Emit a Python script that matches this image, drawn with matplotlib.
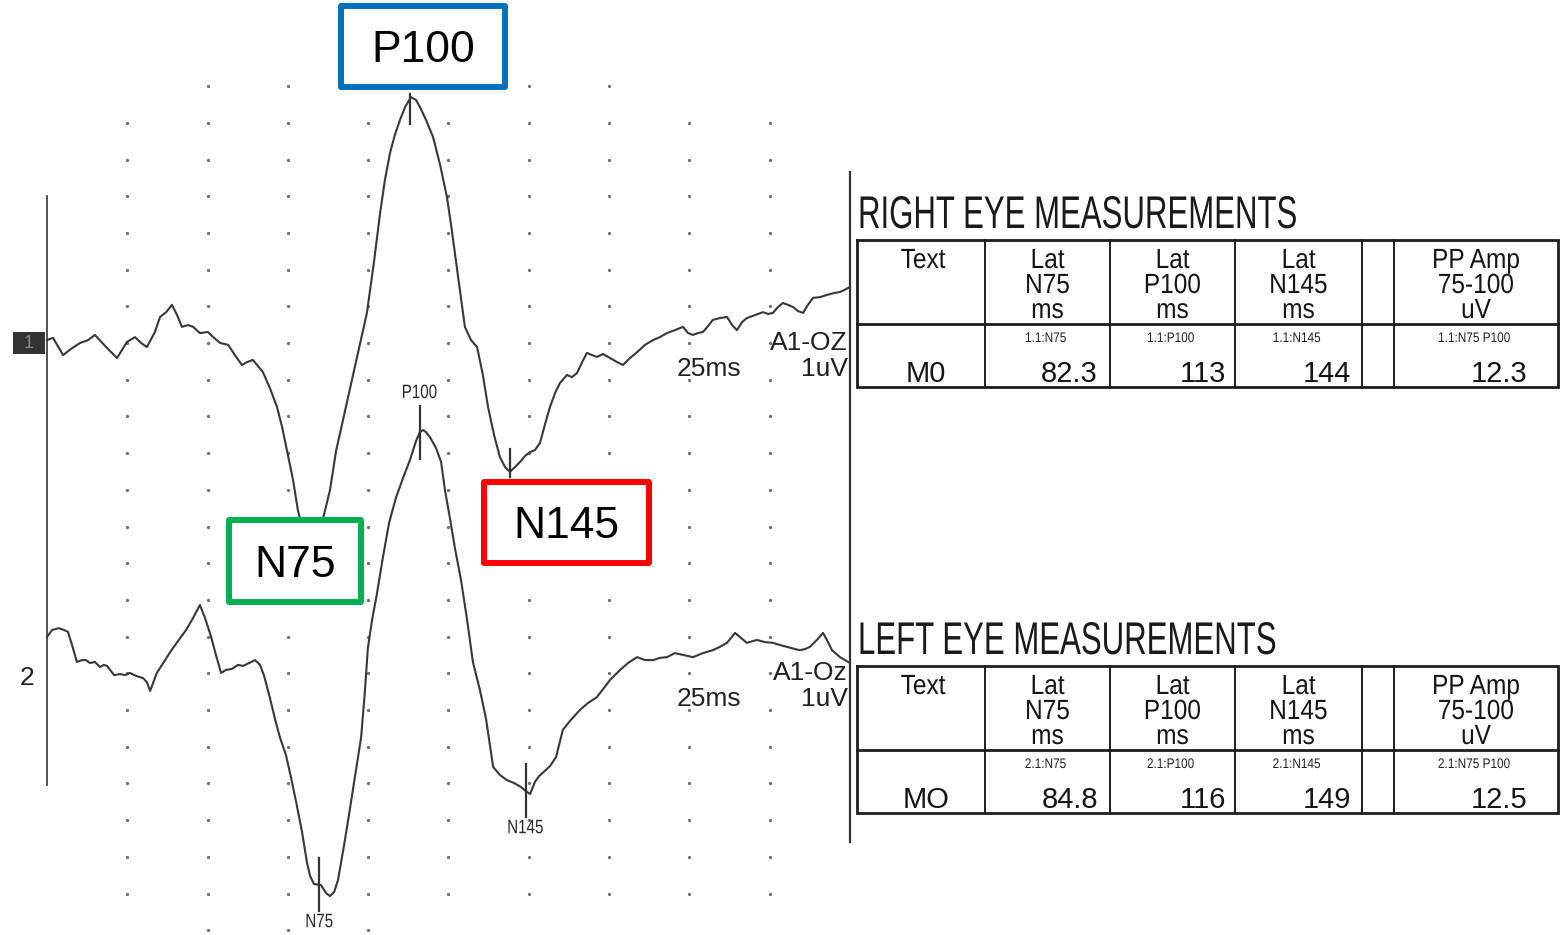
import numpy as np
import matplotlib
matplotlib.use("Agg")
import matplotlib.pyplot as plt
from matplotlib.patches import Rectangle
from matplotlib.patheffects import AbstractPathEffect
from matplotlib.transforms import Affine2D

# ---------------- data ----------------
# Channel 1 (right eye) : time in ms, amplitude in uV (relative to channel baseline)
t1 = [0.0, 1.9, 5.0, 7.8, 10.3, 12.8, 14.9, 18.4, 21.8, 24.9, 27.4, 29.3, 31.1, 33.6, 35.2,
      37.1, 38.9, 40.5, 42.0, 43.9, 45.5, 47.6, 50.1, 52.0, 53.9, 56.4, 58.5, 60.7, 62.3, 64.1,
      67.2, 69.4, 71.6, 73.2, 74.7, 76.6, 78.1, 80.0, 82.2, 84.4, 85.9, 88.1, 90.0, 92.5, 94.9,
      97.4, 99.6, 101.8, 103.7, 105.2, 106.8, 108.3, 109.9, 111.5, 113.3, 114.9, 116.1, 118.0,
      120.2, 122.4, 124.5, 125.8, 127.0, 128.6, 130.1, 132.0, 133.9, 135.7, 137.3, 139.2, 141.0,
      142.6, 144.1, 145.7, 147.3, 148.8, 150.4, 151.9, 153.5, 155.0, 156.6, 158.2, 159.7, 161.9,
      163.4, 165.0, 166.6, 168.1, 169.7, 171.2, 173.1, 175.3, 177.5, 179.3, 181.5, 183.7, 186.2,
      188.7, 190.8, 193.0, 195.5, 198.0, 199.6, 201.1, 202.7, 204.2, 205.8, 207.3, 209.5, 211.7,
      213.3, 214.8, 216.4, 217.9, 220.4, 222.9, 224.5, 226.0, 227.6, 229.1, 230.7, 232.3, 233.8,
      235.4, 236.9, 238.5, 240.7, 242.8, 245.0, 246.9, 248.8, 250.0]
v1 = [0.08, 0.14, -0.33, -0.14, 0.00, 0.08, 0.22, -0.11, -0.41, 0.03, 0.16, 0.00, -0.11, 0.30, 0.71,
      0.84, 1.04, 0.76, 0.44, 0.49, 0.44, 0.27, 0.30, 0.14, 0.00, -0.05, -0.33, -0.60, -0.52, -0.46,
      -0.79, -1.23, -1.74, -2.29, -2.92, -3.73, -4.55, -5.23, -5.50, -5.23, -4.80, -4.01, -2.94, -1.96, -1.01,
      -0.05, 0.82, 2.21, 3.54, 4.44, 5.18, 5.67, 6.08, 6.43, 6.70, 6.62, 6.43, 6.08,
      5.61, 4.85, 3.98, 3.22, 2.45, 1.44, 0.44, 0.08, -0.11, -0.87, -1.74, -2.51, -3.11,
      -3.38, -3.51, -3.38, -3.24, -3.08, -2.97, -2.92, -2.72, -2.23, -1.74, -1.36, -1.09, -0.87,
      -0.93, -0.82, -0.52, -0.27, -0.33, -0.38, -0.30, -0.41, -0.52, -0.60, -0.41, -0.25, -0.05,
      0.08, 0.16, 0.27, 0.35, 0.44, 0.27, 0.22, 0.27, 0.30, 0.46, 0.63, 0.68, 0.71,
      0.49, 0.35, 0.57, 0.68, 0.76, 0.84, 0.79, 0.82, 0.98, 1.09, 1.04, 0.98, 0.87,
      0.82, 1.04, 1.23, 1.25, 1.31, 1.36, 1.39, 1.47, 1.53]

# Channel 2 (left eye)
t2 = [0.0, 1.6, 3.7, 5.3, 6.5, 7.8, 9.3, 10.9, 12.1, 13.4, 14.9, 16.5, 17.7, 18.7, 20.9, 22.7,
      24.3, 25.8, 27.7, 29.9, 31.1, 32.1, 34.2, 36.4, 38.6, 40.8, 43.3, 45.5, 47.6, 49.2, 51.1,
      52.6, 54.2, 55.7, 57.6, 59.5, 61.0, 62.9, 64.8, 66.3, 67.6, 69.4, 71.0, 72.5, 74.4, 76.0,
      77.5, 79.4, 80.9, 81.9, 83.1, 85.3, 86.9, 88.1, 89.4, 90.6, 92.5, 94.3, 96.2, 97.8, 99.0,
      99.9, 101.2, 102.7, 104.6, 106.5, 108.7, 111.1, 113.0, 114.9, 116.1, 117.1, 118.0, 119.2,
      121.1, 122.7, 123.9, 125.5, 127.0, 128.9, 130.8, 132.6, 134.8, 136.7, 137.9, 138.9, 141.0,
      143.2, 145.4, 147.6, 149.1, 150.4, 151.9, 153.2, 155.0, 156.6, 158.5, 160.6, 163.1, 165.9,
      168.4, 171.2, 173.4, 175.3, 178.4, 180.9, 183.7, 186.2, 188.7, 190.8, 193.0, 195.5, 198.0,
      201.1, 204.2, 207.3, 209.5, 211.7, 214.2, 216.1, 217.9, 221.0, 223.5, 226.0, 228.2, 230.4,
      232.9, 234.4, 236.0, 237.5, 239.7, 241.6, 242.8, 244.4, 246.9, 250.0]
v2 = [0.99, 1.18, 1.23, 1.18, 1.13, 0.77, 0.31, 0.36, 0.36, 0.28, 0.31, 0.17, 0.23, 0.20, -0.05, -0.02,
      -0.05, 0.01, -0.07, -0.13, -0.24, -0.48, 0.01, 0.31, 0.61, 0.88, 1.18, 1.51, 1.86, 1.51, 0.99,
      0.50, 0.01, 0.09, 0.12, 0.23, 0.20, 0.28, 0.36, 0.23, -0.07, -0.67, -1.25, -1.74, -2.23, -2.85,
      -3.48, -4.32, -5.14, -5.52, -5.74, -5.77, -5.99, -6.07, -5.96, -5.63, -4.68, -3.70, -2.63, -1.74, -0.46,
      0.69, 1.45, 2.16, 3.17, 4.10, 4.80, 5.38, 5.81, 6.33, 6.57, 6.63, 6.57, 6.44,
      6.14, 5.76, 4.99, 4.20, 3.41, 2.54, 1.45, 0.31, -0.46, -1.25, -1.95, -2.55, -2.77,
      -2.91, -2.99, -3.10, -3.21, -3.29, -2.96, -2.80, -2.66, -2.53, -2.28, -1.54, -1.27, -1.00,
      -0.81, -0.65, -0.40, -0.18, 0.09, 0.28, 0.44, 0.36, 0.36, 0.42, 0.44, 0.55, 0.50,
      0.44, 0.55, 0.63, 0.72, 0.83, 1.10, 0.96, 0.83, 0.91, 0.85, 0.83, 0.77, 0.72,
      0.66, 0.63, 0.66, 0.72, 0.91, 1.10, 0.91, 0.63, 0.44, 0.28]

channel_names = ["1", "2"]
channel_offsets = [0.0, -9.0]          # uV, vertical position of each channel
montages = ["A1-OZ", "A1-Oz"]
time_div_label = "25ms"
amp_div_label = "1uV"
time_per_div = 25.0                    # ms per grid column
amp_per_div = 1.0                      # uV per grid row

peak_names = ["N75", "P100", "N145"]
right_latency = [82.3, 113, 144]
left_latency = [84.8, 116, 149]
right_ppamp = 12.3
left_ppamp = 12.5

table_headers = [["Text"], ["Lat", "N75", "ms"], ["Lat", "P100", "ms"], ["Lat", "N145", "ms"], [],
                 ["PP Amp", "75-100", "uV"]]
right_row_label = "M0"
left_row_label = "MO"
right_tags = ["1.1:N75", "1.1:P100", "1.1:N145", "1.1:N75 P100"]
left_tags = ["2.1:N75", "2.1:P100", "2.1:N145", "2.1:N75 P100"]

# ---------------- helpers ----------------
FONT = "Liberation Sans"


class Squeeze(AbstractPathEffect):
    """Draw text glyphs horizontally condensed (like the narrow print font)."""

    def __init__(self, sx, align):
        super().__init__()
        self.sx = sx
        self.align = align

    def draw_path(self, renderer, gc, tpath, affine, rgbFace=None):
        xs = tpath.vertices[:, 0]
        w = float(xs.max()) if len(xs) else 0.0
        frac = {"left": 0.0, "center": 0.5, "right": 1.0}[self.align]
        tr = Affine2D().scale(self.sx, 1.0).translate((1 - self.sx) * w * frac, 0) + affine
        renderer.draw_path(gc, tpath, tr, rgbFace)


def label(ax, x, y, s, size, sx=1.0, ha="center", va="baseline", color="#151515", zorder=6, **kw):
    t = ax.text(x, y, s, fontsize=size, ha=ha, va=va, color=color, family=FONT,
                zorder=zorder, **kw)
    if sx != 1.0:
        t.set_path_effects([Squeeze(sx, ha)])
    return t


# ---------------- figure ----------------
W, H = 1563, 935
fig = plt.figure(figsize=(W / 100, H / 100), dpi=100)
fig.patch.set_facecolor("white")

# waveform axes: x in ms, y in uV
px_per_ms = 3.212
px_per_uv = 36.7
x0_px, y0_px = 47, 343
ax = fig.add_axes([0, 0, 1, 1])
ax.set_xlim(-x0_px / px_per_ms, (W - x0_px) / px_per_ms)
ax.set_ylim((y0_px - H) / px_per_uv, y0_px / px_per_uv)
ax.axis("off")

# dotted grid
cols = np.arange(1, 10) * time_per_div
rows = np.arange(7, -17, -1) * amp_per_div
gx, gy = [], []
for r in rows:
    for c in cols:
        if r == 7 and not (50 <= c <= 175):
            continue
        if r == -16 and not (50 <= c <= 100):
            continue
        gx.append(c)
        gy.append(r)
ax.scatter(gx, gy, s=5.5, color="#707070", linewidths=0, zorder=1)

# vertical reference lines
ax.plot([0, 0], [4.0, -12.05], color="#444", lw=1.3, zorder=2)
ax.plot([250, 250], [4.66, -13.6], color="#333", lw=1.6, zorder=2)

traces = [(t1, v1, right_latency), (t2, v2, left_latency)]
for i, (tt, vv, lats) in enumerate(traces):
    off = channel_offsets[i]
    tt = np.asarray(tt)
    vv = np.asarray(vv) + off
    ax.plot(tt, vv, color="#383838", lw=1.5, zorder=3, solid_joinstyle="round")
    for name, lat in zip(peak_names, lats):
        vp = np.interp(lat, tt, vv)
        positive = name.startswith("P")
        if i == 0:
            if positive:
                lo, hi = vp - 0.68, vp + 0.12
            else:
                lo, hi = vp - 0.15, vp + 0.62
            ax.plot([lat, lat], [lo, hi], color="#333", lw=1.6, zorder=4)
        else:
            lo, hi = vp - 0.72, vp + 0.72
            ax.plot([lat, lat], [lo, hi], color="#333", lw=1.6, zorder=4)
            if positive:
                label(ax, lat, hi + 0.12, name, 14, sx=0.78, va="bottom", color="#2a2a2a")
            else:
                label(ax, lat, lo - 0.08, name, 14, sx=0.78, va="top", color="#2a2a2a")
    # montage / scale labels
    label(ax, 249.3, off - 0.19, montages[i], 19, ha="right", color="#202020")
    label(ax, 249.3, off - 0.90, amp_div_label, 19, ha="right", color="#202020")
    label(ax, 196.0, off - 0.90, time_div_label, 19, ha="left", color="#202020")

# channel labels
ax.add_patch(Rectangle((-10.6, -0.30), 10.0, 0.60, facecolor="#333333", edgecolor="none", zorder=5))
label(ax, -5.6, 0.0, channel_names[0], 13, va="center", color="#8a8a8a")
label(ax, -6.2, channel_offsets[1] - 0.13, channel_names[1], 19, va="center", color="#202020")

# coloured peak call-outs (white filled boxes)
callouts = [("P100", 117.1, 8.08, 51.1, 2.20, "#0070C0"),
            ("N145", 161.7, -4.89, 51.3, 2.20, "#FF0000"),
            ("N75", 77.2, -5.94, 41.1, 2.24, "#00B050")]
for text, cx, cy, bw, bh, col in callouts:
    ax.add_patch(Rectangle((cx - bw / 2, cy - bh / 2), bw, bh, facecolor="white",
                           edgecolor=col, lw=4.3, joinstyle="round", zorder=7))
    label(ax, cx, cy, text, 32, va="center_baseline", color="black", zorder=8)

# ---------------- measurement tables (pixel layout) ----------------
tx = fig.add_axes([0, 0, 1, 1], facecolor="none")
tx.set_xlim(0, W)
tx.set_ylim(H, 0)
tx.axis("off")

col_edges = [857, 985, 1110, 1235, 1362, 1394, 1558]
value_cols = [1, 2, 3, 5]
value_right = [1098, 1226, 1351, 1527]


def draw_table(top, title, row_label, tags, values):
    label(tx, 858, top - 12, title, 33, sx=0.68, ha="left", color="#1a1a1a")
    sep = top + 84
    bottom = top + 147
    lc = "#1e1e1e"
    tx.plot([col_edges[0], col_edges[-1], col_edges[-1], col_edges[0], col_edges[0]],
            [top, top, bottom, bottom, top], color=lc, lw=2.0, zorder=5, solid_joinstyle="miter")
    tx.plot([col_edges[0], col_edges[-1]], [sep, sep], color=lc, lw=2.0, zorder=5)
    for xe in col_edges[1:-1]:
        tx.plot([xe, xe], [top, bottom], color=lc, lw=1.4, zorder=5)
    base = [top + 28, top + 53, top + 78]
    for ci, lines in enumerate(table_headers):
        cx = (col_edges[ci] + col_edges[ci + 1]) / 2 + (2 if ci == 0 else 0)
        for li, s in enumerate(lines):
            label(tx, cx, base[li], s, 20, sx=0.88, color="#151515")
    label(tx, (col_edges[0] + col_edges[1]) / 2 + 5, top + 142, row_label, 21, color="#151515")
    for k, ci in enumerate(value_cols):
        cx = (col_edges[ci] + col_edges[ci + 1]) / 2 - 2
        label(tx, cx, top + 102, tags[k], 10, sx=0.85, color="#222")
        label(tx, value_right[k], top + 142, f"{values[k]:g}", 21, ha="right", color="#151515")


draw_table(240, "RIGHT EYE MEASUREMENTS", right_row_label, right_tags, right_latency + [right_ppamp])
draw_table(666, "LEFT EYE MEASUREMENTS", left_row_label, left_tags, left_latency + [left_ppamp])

fig.savefig("out.png", dpi=100, facecolor="white")
